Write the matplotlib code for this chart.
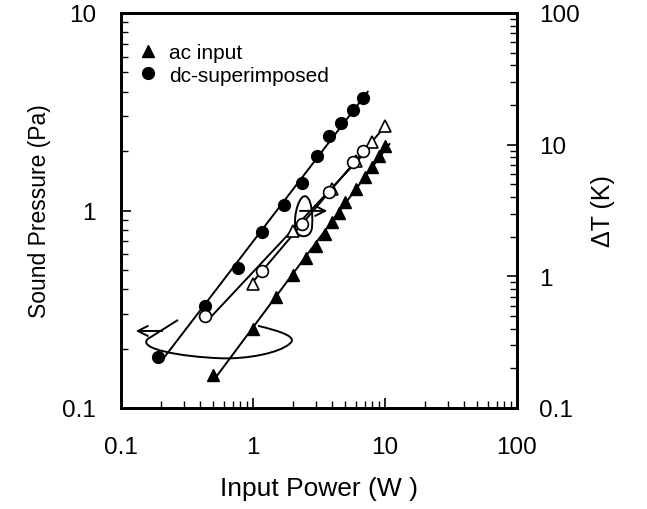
import numpy as np
import matplotlib
matplotlib.use("Agg")
import matplotlib.pyplot as plt
from matplotlib.path import Path
from matplotlib.patches import PathPatch
from matplotlib.ticker import FixedLocator, LogLocator, NullFormatter

plt.rcParams['font.family'] = ['Liberation Sans', 'DejaVu Sans']

# sound pressure (left axis), filled markers
ac_power = [0.5, 1.0, 1.5, 2.0, 2.5, 3.0, 3.5, 4.0, 4.5, 5.0, 6.0, 7.0, 8.0, 9.0, 10.0]
ac_pressure = [0.147, 0.251, 0.365, 0.471, 0.574, 0.661, 0.760, 0.875, 0.971, 1.10,
               1.29, 1.48, 1.66, 1.89, 2.12]
dc_power = [0.19, 0.433, 0.766, 1.18, 1.72, 2.34, 3.07, 3.78, 4.61, 5.69, 6.85]
dc_pressure = [0.181, 0.327, 0.509, 0.776, 1.07, 1.37, 1.89, 2.38, 2.76, 3.24, 3.72]

# temperature rise (right axis), open markers
ac_dt_power = [1.0, 2.0, 4.0, 6.0, 8.0, 10.0]
ac_dt = [0.875, 2.21, 4.6, 7.5, 10.5, 13.8]
dc_dt_power = [0.433, 1.18, 2.34, 3.78, 5.69, 6.85]
dc_dt = [0.50, 1.10, 2.50, 4.36, 7.38, 8.93]

x_ticks = [0.1, 1, 10, 100]
x_ticklabels = ['0.1', '1', '10', '100']
yl_ticks = [0.1, 1, 10]
yl_ticklabels = ['0.1', '1', '10']
yr_ticks = [0.1, 1, 10, 100]
yr_ticklabels = ['0.1', '1', '10', '100']


def fit_line(x, y, x0, x1):
    k, b = np.polyfit(np.log10(x), np.log10(y), 1)
    xs = np.array([x0, x1])
    return xs, 10 ** (k * np.log10(xs) + b)


fig = plt.figure(figsize=(6.47, 5.1), dpi=100)
ax = fig.add_axes([121 / 647, 1 - 409 / 510, 396 / 647, 395 / 510])
ax2 = ax.twinx()

lw = 1.4
ms = 8.5

# fitted lines
xs, ys = fit_line(dc_power, dc_pressure, 0.205, 7.4)
ax.plot(xs, ys, color='black', lw=lw)
xs, ys = fit_line(ac_power, ac_pressure, 0.5, 10.8)
ax.plot(xs, ys, color='black', lw=lw)
xs, ys = fit_line(dc_dt_power, dc_dt, 0.49, 8.0)
ax2.plot(xs, ys, color='black', lw=lw)
xs, ys = fit_line(ac_dt_power, ac_dt, 0.95, 10.0)
ax2.plot(xs, ys, color='black', lw=lw)

# points
ax.plot(ac_power, ac_pressure, '^', color='black', ms=ms, ls='none', label='ac input')
ax.plot(dc_power, dc_pressure, 'o', color='black', ms=ms, ls='none', label='dc-superimposed')
ax2.plot(ac_dt_power, ac_dt, '^', mfc='white', mec='black', mew=1.2, ms=ms, ls='none')
ax2.plot(dc_dt_power, dc_dt, 'o', mfc='white', mec='black', mew=1.2, ms=ms, ls='none')

# scales
for a in (ax, ax2):
    a.set_xscale('log')
    a.set_yscale('log')
ax.set_xlim(0.1, 100)
ax.set_ylim(0.1, 10)
ax2.set_ylim(0.1, 100)

ax.xaxis.set_major_locator(FixedLocator(x_ticks))
ax.set_xticklabels(x_ticklabels)
ax.xaxis.set_minor_locator(LogLocator(base=10, subs=np.arange(2, 10)))
ax.xaxis.set_minor_formatter(NullFormatter())
ax.yaxis.set_major_locator(FixedLocator(yl_ticks))
ax.set_yticklabels(yl_ticklabels)
ax.yaxis.set_minor_locator(LogLocator(base=10, subs=np.arange(2, 10)))
ax.yaxis.set_minor_formatter(NullFormatter())
ax2.yaxis.set_major_locator(FixedLocator(yr_ticks))
ax2.set_yticklabels(yr_ticklabels)
ax2.yaxis.set_minor_locator(LogLocator(base=10, subs=np.arange(2, 10)))
ax2.yaxis.set_minor_formatter(NullFormatter())

ax.tick_params(axis='x', which='both', direction='in', labelsize=17.5, pad=20, top=False)
ax.tick_params(axis='y', which='both', direction='in', labelsize=17.5, pad=18)
ax2.tick_params(axis='y', which='both', direction='in', labelsize=17.5, pad=16)
for a in (ax, ax2):
    a.tick_params(which='major', length=7, width=1.2)
    a.tick_params(which='minor', length=5, width=1.0)
    for s in a.spines.values():
        s.set_linewidth(2)

ax.set_xlabel('Input Power (W )', fontsize=19, labelpad=13)
ax.set_ylabel('Sound Pressure (Pa)', fontsize=16.5, labelpad=8)
ax2.set_ylabel('ΔT (K)', fontsize=18, labelpad=8)

ax.legend(loc='upper left', bbox_to_anchor=(0.0, 0.965), frameon=False, fontsize=15,
          handlelength=1.0, handletextpad=0.5, borderaxespad=0.4, labelspacing=0.15)

# loop + arrow pointing to the left axis
verts = [(0.346, 0.208),
         (0.40, 0.195), (0.45, 0.18), (0.425, 0.162),
         (0.40, 0.14), (0.32, 0.123), (0.25, 0.126),
         (0.15, 0.13), (0.04, 0.15), (0.068, 0.175),
         (0.144, 0.223)]
codes = [Path.MOVETO] + [Path.CURVE4] * 9 + [Path.LINETO]
ax.add_patch(PathPatch(Path(verts, codes), transform=ax.transAxes, fill=False,
                       lw=lw, color='black'))
ax.annotate('', xy=(0.030, 0.195), xytext=(0.111, 0.195), xycoords='axes fraction',
            arrowprops=dict(arrowstyle='->', lw=lw, color='black', mutation_scale=18))

# loop + arrow pointing to the right axis
verts = [(0.462, 0.536),
         (0.445, 0.53), (0.432, 0.47), (0.444, 0.445),
         (0.452, 0.43), (0.478, 0.43), (0.482, 0.455),
         (0.486, 0.49), (0.48, 0.54), (0.462, 0.536)]
codes = [Path.MOVETO] + [Path.CURVE4] * 9
ax.add_patch(PathPatch(Path(verts, codes), transform=ax.transAxes, fill=False,
                       lw=lw, color='black'))
ax.annotate('', xy=(0.528, 0.499), xytext=(0.445, 0.499), xycoords='axes fraction',
            arrowprops=dict(arrowstyle='->', lw=lw, color='black', mutation_scale=18))

fig.savefig('out.png', dpi=100)
